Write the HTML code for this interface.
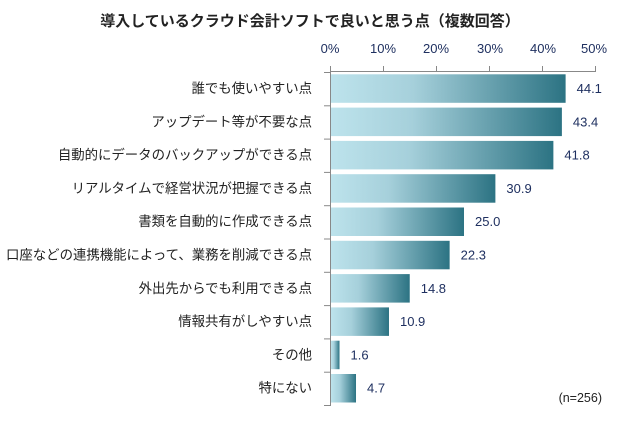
<!DOCTYPE html>
<html><head><meta charset="utf-8"><style>
body{margin:0;background:#fff;}
svg text{font-family:"Liberation Sans","Noto Sans CJK JP",sans-serif;}
</style></head><body>
<svg width="620" height="420" xmlns="http://www.w3.org/2000/svg">
<defs><linearGradient id="g" x1="0" y1="0" x2="1" y2="0">
<stop offset="0" stop-color="#bde3ec"/><stop offset="0.35" stop-color="#a6d0db"/><stop offset="1" stop-color="#2c7383"/></linearGradient></defs>
<rect width="620" height="420" fill="#fff"/>
<text x="310" y="26" text-anchor="middle" font-size="15" font-weight="bold" fill="#222">導入しているクラウド会計ソフトで良いと思う点（複数回答）</text>
<g font-size="13" fill="#1f3060" text-anchor="middle">
<text x="330" y="53">0%</text><text x="383" y="53">10%</text><text x="436" y="53">20%</text><text x="490" y="53">30%</text><text x="543" y="53">40%</text><text x="594" y="53">50%</text>
</g>
<g stroke="#888" stroke-width="1">
<line x1="330" y1="71.5" x2="596" y2="71.5"/>
<line x1="330.5" y1="71" x2="330.5" y2="405"/>
<line x1="330.5" y1="66" x2="330.5" y2="72"/><line x1="383.5" y1="66" x2="383.5" y2="72"/><line x1="436.5" y1="66" x2="436.5" y2="72"/><line x1="489.5" y1="66" x2="489.5" y2="72"/><line x1="542.5" y1="66" x2="542.5" y2="72"/><line x1="595.5" y1="66" x2="595.5" y2="72"/>
</g>
<g id="rows"></g>
<text x="602" y="402" text-anchor="end" font-size="12.5" fill="#222">(n=256)</text>
</svg>
<script>
var d=[["誰でも使いやすい点",44.1],["アップデート等が不要な点",43.4],["自動的にデータのバックアップができる点",41.8],["リアルタイムで経営状況が把握できる点",30.9],["書類を自動的に作成できる点",25.0],["口座などの連携機能によって、業務を削減できる点",22.3],["外出先からでも利用できる点",14.8],["情報共有がしやすい点",10.9],["その他",1.6],["特にない",4.7]];
var g=document.getElementById('rows'),s='',p=33.3;
for(var i=0;i<d.length;i++){var y=72+i*p,w=d[i][1]*5.32;
s+='<line x1="324" x2="331" y1="'+(y+0.5)+'" y2="'+(y+0.5)+'" stroke="#888"/>';
s+='<rect x="331" y="'+(y+2.3)+'" width="'+w+'" height="28.5" fill="url(#g)"/>';
s+='<text x="312" y="'+(y+21)+'" text-anchor="end" font-size="13.4" fill="#222">'+d[i][0]+'</text>';
s+='<text x="'+(331+w+11)+'" y="'+(y+21)+'" font-size="13" fill="#1f3060">'+d[i][1].toFixed(1)+'</text>';}
s+='<line x1="324" x2="331" y1="405.5" y2="405.5" stroke="#888"/>';
g.innerHTML=s;
</script>
</body></html>
